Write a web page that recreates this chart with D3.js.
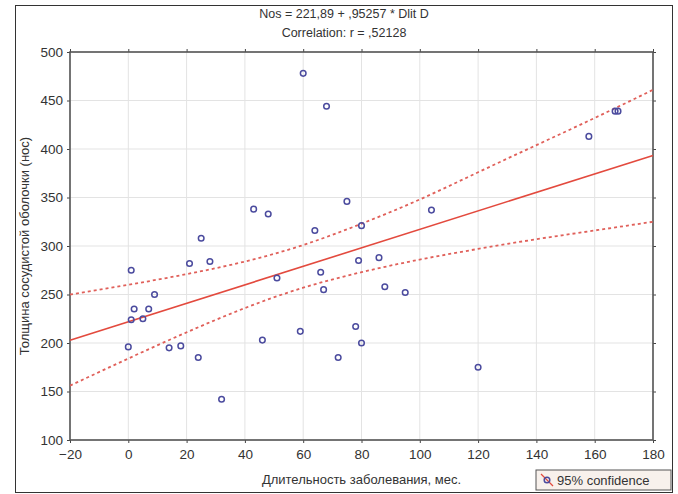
<!DOCTYPE html>
<html>
<head>
<meta charset="utf-8">
<script src="https://cdn.jsdelivr.net/npm/d3@7"></script>
<style>
    body { margin: 0; background: #fff; }
    svg { display: block; font-family: "Liberation Sans", Arial, sans-serif; }
    .grid line { stroke: #e3e3e3; stroke-width: 1; }
    .axis text { font-size: 13.5px; fill: #333; }
    .axis path { display: none; }
    .axis line { stroke: #444; }
</style>
</head>
<body>
<div id="chart"></div>
<script>
// Scatter data: disease duration (months) vs choroid thickness
const durationMonths = [60, 68, 158, 167, 168, 75, 43, 48, 104, 64, 80, 25, 21, 28, 1, 86, 79, 51, 66,
    67, 88, 95, 9, 2, 7, 1, 5, 0, 14, 18, 24, 46, 59, 78, 80, 72, 32, 120];
const thickness = [478, 444, 413, 439, 439, 346, 338, 333, 337, 316, 321, 308, 282, 284, 275, 288, 285, 267, 273,
    255, 258, 252, 250, 235, 235, 224, 225, 196, 195, 197, 185, 203, 212, 217, 200, 185, 142, 175];

// Regression from the title
const intercept = 221.89;
const slope = 0.95257;

// 95% confidence band
const ciX = [-20, 0, 20, 40, 60, 80, 100, 120, 140, 160, 180];
const ciUpper = [250, 260, 271, 284, 301, 323, 348, 376, 404, 432, 461];
const ciLower = [156, 184, 211, 236, 257, 273, 286, 297, 307, 316, 325];

const xTicks = [-20, 0, 20, 40, 60, 80, 100, 120, 140, 160, 180];
const yTicks = [100, 150, 200, 250, 300, 350, 400, 450, 500];

const titleLines = ["Nos = 221,89 + ,95257 * Dlit D", "Correlation: r = ,52128"];
const xLabel = "Длительность заболевания, мес.";
const yLabel = "Толщина сосудистой оболочки (нос)";
const legendLabel = "95% confidence";

const width = 678;
const height = 494;
const margin = { top: 52, right: 25, bottom: 54, left: 70 };

const svg = d3.select("#chart")
    .append("svg")
    .attr("width", width)
    .attr("height", height);

// Outer frame
svg.append("rect")
    .attr("x", 15.5)
    .attr("y", 5.5)
    .attr("width", 657)
    .attr("height", 487)
    .attr("fill", "none")
    .attr("stroke", "#333")
    .attr("stroke-width", 1);

const x = d3.scaleLinear()
    .domain([-20, 180])
    .range([margin.left, width - margin.right]);

const y = d3.scaleLinear()
    .domain([100, 500])
    .range([height - margin.bottom, margin.top]);

// Grid lines
svg.append("g")
    .attr("class", "grid")
    .selectAll("line.gx")
    .data(xTicks)
    .enter()
    .append("line")
    .attr("x1", d => x(d))
    .attr("x2", d => x(d))
    .attr("y1", y(100))
    .attr("y2", y(500));

svg.append("g")
    .attr("class", "grid")
    .selectAll("line.gy")
    .data(yTicks)
    .enter()
    .append("line")
    .attr("x1", x(-20))
    .attr("x2", x(180))
    .attr("y1", d => y(d))
    .attr("y2", d => y(d));

// Axes
svg.append("g")
    .attr("class", "axis")
    .attr("transform", `translate(0, ${y(100)})`)
    .call(d3.axisBottom(x).tickValues(xTicks).tickSize(3).tickPadding(6));

svg.append("g")
    .attr("class", "axis")
    .attr("transform", `translate(${x(-20)}, 0)`)
    .call(d3.axisLeft(y).tickValues(yTicks).tickSize(3).tickPadding(4));

// Ticks on the top and right side, no labels
svg.append("g")
    .attr("class", "axis")
    .attr("transform", `translate(0, ${y(500)})`)
    .call(d3.axisTop(x).tickValues(xTicks).tickSize(3).tickFormat(""));

svg.append("g")
    .attr("class", "axis")
    .attr("transform", `translate(${x(180)}, 0)`)
    .call(d3.axisRight(y).tickValues(yTicks).tickSize(3).tickFormat(""));

// Plot border
svg.append("rect")
    .attr("x", x(-20))
    .attr("y", y(500))
    .attr("width", x(180) - x(-20))
    .attr("height", y(100) - y(500))
    .attr("fill", "none")
    .attr("stroke", "#555")
    .attr("stroke-width", 1.6);

// Confidence band lines
const ciLine = d3.line()
    .x(d => x(d[0]))
    .y(d => y(d[1]))
    .curve(d3.curveNatural);

[ciUpper, ciLower].forEach(band => {
    svg.append("path")
        .datum(ciX.map((v, i) => [v, band[i]]))
        .attr("d", ciLine)
        .attr("fill", "none")
        .attr("stroke", "#e0605a")
        .attr("stroke-width", 1.8)
        .attr("stroke-dasharray", "3,3");
});

// Regression line
svg.append("line")
    .attr("x1", x(-20))
    .attr("y1", y(intercept + slope * -20))
    .attr("x2", x(180))
    .attr("y2", y(intercept + slope * 180))
    .attr("stroke", "#e34a3e")
    .attr("stroke-width", 1.6);

// Points
svg.append("g")
    .selectAll("circle")
    .data(durationMonths)
    .enter()
    .append("circle")
    .attr("cx", d => x(d))
    .attr("cy", (d, i) => y(thickness[i]))
    .attr("r", 2.8)
    .attr("fill", "none")
    .attr("stroke", "#4b4b9e")
    .attr("stroke-width", 1.5);

// Title
svg.append("g")
    .selectAll("text")
    .data(titleLines)
    .enter()
    .append("text")
    .attr("x", 344)
    .attr("y", (d, i) => 18 + i * 19)
    .attr("text-anchor", "middle")
    .style("font-size", "12.5px")
    .style("fill", "#333")
    .text(d => d);

// Axis labels
svg.append("text")
    .attr("x", (x(-20) + x(180)) / 2)
    .attr("y", 484)
    .attr("text-anchor", "middle")
    .style("font-size", "13px")
    .style("fill", "#333")
    .text(xLabel);

svg.append("text")
    .attr("transform", `translate(29, ${(y(100) + y(500)) / 2}) rotate(-90)`)
    .attr("text-anchor", "middle")
    .style("font-size", "13px")
    .style("fill", "#333")
    .text(yLabel);

// Legend
const legend = svg.append("g")
    .attr("transform", "translate(536, 470)");

legend.append("rect")
    .attr("width", 135)
    .attr("height", 20)
    .attr("fill", "#f8f1ec")
    .attr("stroke", "#555")
    .attr("stroke-width", 1);

legend.append("line")
    .attr("x1", 5)
    .attr("y1", 4)
    .attr("x2", 17)
    .attr("y2", 16)
    .attr("stroke", "#e34a3e")
    .attr("stroke-width", 1.3);

legend.append("circle")
    .attr("cx", 11)
    .attr("cy", 10)
    .attr("r", 2.8)
    .attr("fill", "none")
    .attr("stroke", "#4b4b9e")
    .attr("stroke-width", 1.5);

legend.append("text")
    .attr("x", 21)
    .attr("y", 15)
    .style("font-size", "13px")
    .style("fill", "#333")
    .text(legendLabel);
</script>
</body>
</html>
